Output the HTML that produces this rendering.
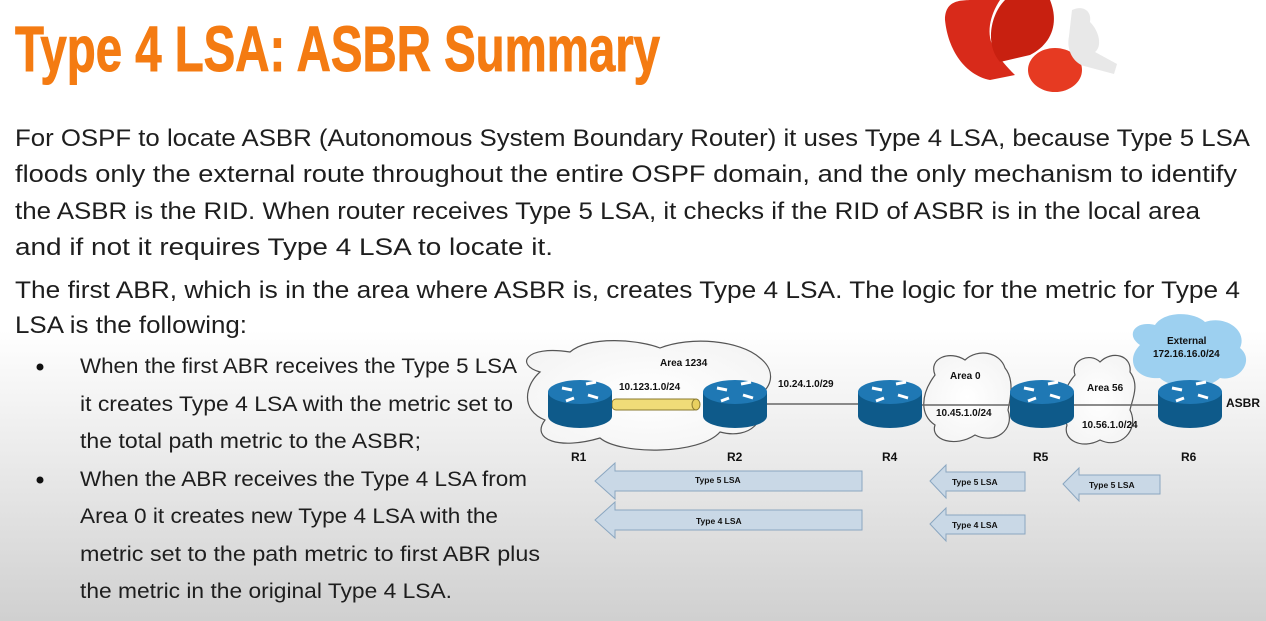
<!DOCTYPE html>
<html><head><meta charset="utf-8"><style>
html,body{margin:0;padding:0}
body{width:1266px;height:621px;overflow:hidden;background:linear-gradient(#fff 0,#fff 330px,#d0d0d0 621px);}
svg{display:block}
.b{font-family:"Liberation Sans",sans-serif;fill:#1e1e1e}
.d{font-family:"Liberation Sans",sans-serif;font-weight:bold;fill:#111}
</style></head><body>
<svg width="1266" height="621" viewBox="0 0 1266 621">
<defs>
<radialGradient id="g1" cx="0.5" cy="0.5" r="0.6"><stop offset="0" stop-color="#fff"/><stop offset="1" stop-color="#f4f4f4"/></radialGradient>
<g id="rt">
<path d="M-32,0 v24 a32,12 0 0 0 64,0 v-24 z" fill="#0e5a8a"/>
<ellipse cx="0" cy="0" rx="32" ry="12" fill="#1f78b4"/>
<path d="M-18,-4 l10,2 M6,-8 l10,-2 M-6,6 l-8,3 M8,3 l10,3" stroke="#fff" stroke-width="3"/>
</g>
</defs>
<!-- illustration -->
<path d="M945,20 C945,0 960,0 975,0 L1000,0 C990,15 985,35 995,50 C1000,60 1010,70 1015,75 L990,80 C965,75 948,50 945,20 Z" fill="#d82a1a"/>
<path d="M1005,0 L1050,0 C1060,25 1050,45 1030,55 L1000,62 C985,45 990,15 1005,0 Z" fill="#c82010"/>
<ellipse cx="1055" cy="70" rx="27" ry="22" fill="#e63a22"/>
<path d="M1072,10 c10,-5 20,0 18,12 c10,10 12,25 5,30 l22,12 l-3,10 l-30,-8 c-10,-3 -18,-15 -15,-30 z" fill="#e8e8e8"/>
<!-- title -->
<text x="15" y="71" textLength="645" lengthAdjust="spacingAndGlyphs" style="font-family:'Liberation Sans',sans-serif;font-weight:bold;font-size:64px;fill:#f47b12;stroke:#f47b12;stroke-width:1">Type 4 LSA: ASBR Summary</text>
<g class="b" font-size="24">
<text x="15" y="146" textLength="1235" lengthAdjust="spacingAndGlyphs">For OSPF to locate ASBR (Autonomous System Boundary Router) it uses Type 4 LSA, because Type 5 LSA</text>
<text x="15" y="182" textLength="1222" lengthAdjust="spacingAndGlyphs">floods only the external route throughout the entire OSPF domain, and the only mechanism to identify</text>
<text x="15" y="219" textLength="1185" lengthAdjust="spacingAndGlyphs">the ASBR is the RID. When router receives Type 5 LSA, it checks if the RID of ASBR is in the local area</text>
<text x="15" y="255" textLength="538" lengthAdjust="spacingAndGlyphs">and if not it requires Type 4 LSA to locate it.</text>
<text x="15" y="298" textLength="1225" lengthAdjust="spacingAndGlyphs">The first ABR, which is in the area where ASBR is, creates Type 4 LSA. The logic for the metric for Type 4</text>
<text x="15" y="333" textLength="232" lengthAdjust="spacingAndGlyphs">LSA is the following:</text>
</g>
<g class="b" font-size="21">
<circle cx="40" cy="367" r="3.5" fill="#111"/><circle cx="40" cy="480" r="3.5" fill="#111"/>
<text x="80" y="373" textLength="437" lengthAdjust="spacingAndGlyphs">When the first ABR receives the Type 5 LSA</text>
<text x="80" y="411" textLength="433" lengthAdjust="spacingAndGlyphs">it creates Type 4 LSA with the metric set to</text>
<text x="80" y="448" textLength="341" lengthAdjust="spacingAndGlyphs">the total path metric to the ASBR;</text>
<text x="80" y="486" textLength="447" lengthAdjust="spacingAndGlyphs">When the ABR receives the Type 4 LSA from</text>
<text x="80" y="523" textLength="418" lengthAdjust="spacingAndGlyphs">Area 0 it creates new Type 4 LSA with the</text>
<text x="80" y="561" textLength="460" lengthAdjust="spacingAndGlyphs">metric set to the path metric to first ABR plus</text>
<text x="80" y="598" textLength="372" lengthAdjust="spacingAndGlyphs">the metric in the original Type 4 LSA.</text>
</g>
<!-- clouds -->
<g fill="url(#g1)" stroke="#555" stroke-width="1.2">
<path d="M540,372 C515,365 525,345 570,352 C590,335 640,340 660,348 C690,336 740,340 760,358 C778,372 770,390 758,395 C770,420 750,440 720,432 C700,455 620,455 600,438 C560,450 530,440 545,420 C520,410 525,385 540,372 Z"/>
<path d="M935,375 C928,358 950,350 965,360 C978,348 1000,352 1005,368 C1015,380 1010,400 1008,410 C1015,430 995,445 975,435 C955,448 930,440 935,425 C920,415 920,395 935,375 Z"/>
<path d="M1075,375 C1070,360 1090,352 1100,362 C1112,350 1132,355 1130,372 C1140,385 1132,400 1130,410 C1140,430 1120,450 1100,440 C1082,450 1062,440 1067,425 C1058,410 1062,390 1075,375 Z"/>
</g>
<path d="M1140,345 C1125,335 1135,320 1155,325 C1165,310 1195,312 1205,322 C1225,315 1248,330 1240,348 C1255,360 1240,382 1220,378 C1205,392 1170,388 1160,378 C1135,380 1125,360 1140,345 Z" fill="#9dd0f0"/>
<!-- links -->
<g stroke="#666" stroke-width="1.5">
<line x1="765" y1="404" x2="860" y2="404"/><line x1="920" y1="405" x2="1012" y2="405"/><line x1="1072" y1="405" x2="1160" y2="405"/>
</g>
<rect x="612" y="399" width="86" height="11" rx="4" fill="#f0dc78" stroke="#8a7a30"/>
<ellipse cx="696" cy="404.5" rx="4" ry="5.5" fill="#e8d060" stroke="#8a7a30"/>
<use href="#rt" x="580" y="392"/><use href="#rt" x="735" y="392"/><use href="#rt" x="890" y="392"/><use href="#rt" x="1042" y="392"/><use href="#rt" x="1190" y="392"/>
<g class="d" font-size="10">
<text x="660" y="366">Area 1234</text>
<text x="619" y="390">10.123.1.0/24</text>
<text x="778" y="387">10.24.1.0/29</text>
<text x="950" y="379">Area 0</text>
<text x="936" y="416">10.45.1.0/24</text>
<text x="1087" y="391">Area 56</text>
<text x="1082" y="428">10.56.1.0/24</text>
<text x="1167" y="344">External</text>
<text x="1153" y="357">172.16.16.0/24</text>
<text x="1226" y="407" font-size="12">ASBR</text>
<g font-size="12"><text x="571" y="461">R1</text><text x="727" y="461">R2</text><text x="882" y="461">R4</text><text x="1033" y="461">R5</text><text x="1181" y="461">R6</text></g>
</g>
<!-- LSA arrows -->
<g fill="#c9d8e6" stroke="#8aa6c0" stroke-width="1">
<path d="M595,481 L615,463 V471 H862 V491 H615 V499 Z"/>
<path d="M595,520 L615,502 V510 H862 V530 H615 V538 Z"/>
<path d="M930,481 L946,465 V472 H1025 V491 H946 V498 Z"/>
<path d="M930,524 L946,508 V515 H1025 V534 H946 V541 Z"/>
<path d="M1063,484 L1079,468 V475 H1160 V494 H1079 V501 Z"/>
</g>
<g class="d" font-size="8.5" font-weight="normal">
<text x="695" y="483">Type 5 LSA</text><text x="696" y="524">Type 4 LSA</text>
<text x="952" y="485">Type 5 LSA</text><text x="952" y="528">Type 4 LSA</text>
<text x="1089" y="488">Type 5 LSA</text>
</g>
</svg>
</body></html>
